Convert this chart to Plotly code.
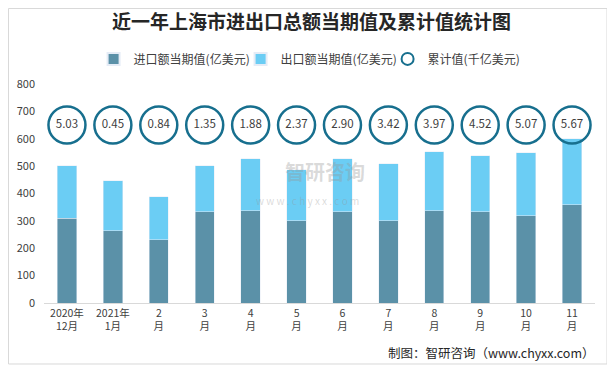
import plotly.graph_objects as go

categories = ["2020年<br>12月", "2021年<br>1月", "2<br>月", "3<br>月", "4<br>月", "5<br>月",
              "6<br>月", "7<br>月", "8<br>月", "9<br>月", "10<br>月", "11<br>月"]
imports = [309, 264, 231, 333, 337, 300, 333, 300, 337, 333, 319, 359]
exports = [193, 183, 157, 169, 190, 187, 194, 209, 216, 205, 230, 241]
cumulative = [5.03, 0.45, 0.84, 1.35, 1.88, 2.37, 2.90, 3.42, 3.97, 4.52, 5.07, 5.67]
circle_level = [650] * 12

FONT = "Noto Sans CJK SC"

fig = go.Figure()
fig.add_trace(go.Bar(x=categories, y=imports, name="进口额当期值(亿美元)",
                     marker=dict(color="#5b91a8")))
fig.add_trace(go.Bar(x=categories, y=exports, name="出口额当期值(亿美元)",
                     marker=dict(color="#6bcdf4")))
fig.add_trace(go.Scatter(x=categories, y=circle_level, name="累计值(千亿美元)",
                         mode="markers+text",
                         text=[f"{v:.2f}" for v in cumulative],
                         textposition="middle center",
                         textfont=dict(size=11.5, color="#404040", family=FONT),
                         marker=dict(symbol="circle-open", size=37,
                                     line=dict(width=2.5, color="#176f8e"),
                                     color="#176f8e")))

# figure is placed at (8, 8) by the page's default body margin
fig.update_layout(
    barmode="stack",
    bargap=0.58,
    width=607, height=361,
    margin=dict(l=36, r=20, t=76, b=66, autoexpand=False),
    paper_bgcolor="white", plot_bgcolor="white",
    font=dict(family=FONT, color="#595959", size=11),
    title=dict(text="<b>近一年上海市进出口总额当期值及累计值统计图</b>",
               x=0.5, xanchor="center", yref="container", y=0.961, yanchor="middle",
               font=dict(size=19, color="#262626", family=FONT)),
    legend=dict(orientation="h", x=0.09, xanchor="left", yref="container",
                y=0.859, yanchor="middle",
                font=dict(size=12, color="#404040", family=FONT),
                entrywidth=102, entrywidthmode="pixels",
                itemsizing="constant", traceorder="normal"),
    showlegend=True,
)
fig.update_xaxes(range=[-0.5, 11.5], showline=True, linecolor="#d9d9d9", linewidth=1, ticks="",
                 tickfont=dict(size=10.5, color="#404040"), showgrid=False)
fig.update_yaxes(range=[0, 800], dtick=100, showgrid=False, zeroline=False,
                 showline=False, ticklabelstandoff=8,
                 tickfont=dict(size=11, color="#404040"))

# outer border
fig.add_shape(type="rect", xref="paper", yref="paper", x0=-0.0644, x1=1.0218, y0=-0.2785, y1=1.3447,
              line=dict(color="#d9d9d9", width=1), layer="below")

# watermark
fig.add_annotation(text="<b>智研咨询</b>", xref="paper", yref="paper",
                   x=0.51, y=0.60, showarrow=False,
                   font=dict(size=20, color="rgba(150,150,150,0.35)", family=FONT))
fig.add_annotation(text="w w w . c h y x x . c o m", xref="paper", yref="paper",
                   x=0.479, y=0.47, showarrow=False,
                   font=dict(size=10, color="rgba(150,150,150,0.35)", family=FONT))

fig.add_annotation(text="制图：智研咨询（www.chyxx.com）", xref="paper", yref="paper",
                   x=1.0036, xanchor="right", y=-0.224, yanchor="middle", showarrow=False,
                   font=dict(size=12.5, color="#262626", family=FONT))

fig.write_html("out.html")
